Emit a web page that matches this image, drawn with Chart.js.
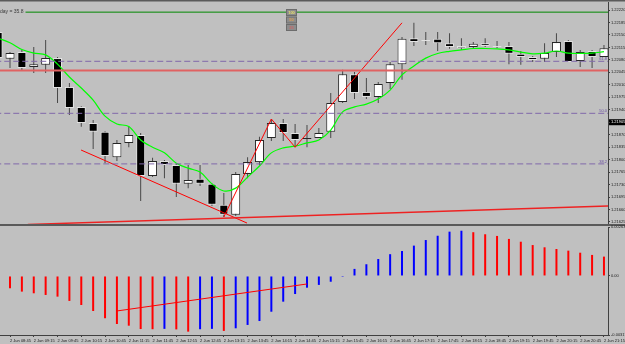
<!DOCTYPE html>
<html>
<head>
<meta charset="utf-8">
<script src="https://cdn.jsdelivr.net/npm/chart.js@4.4.1/dist/chart.umd.min.js"></script>
<style>
  body { margin: 0; background: #c0c0c0; width: 625px; height: 344px; overflow: hidden; position: relative; }
  canvas { position: absolute; left: 0; }
  #priceChart { top: 0; }
  #osmaChart { top: 222px; }
</style>
</head>
<body>
<canvas id="priceChart" width="625" height="226"></canvas>
<canvas id="osmaChart" width="625" height="122"></canvas>
<script>
// 15 min bars, 2 Jun (first one is cut by the left edge)
const times = ["08:30","08:45","09:00","09:15","09:30","09:45","10:00","10:15","10:30","10:45",
  "11:00","11:15","11:30","11:45","12:00","12:15","12:30","12:45","13:00","13:15","13:30","13:45",
  "14:00","14:15","14:30","14:45","15:00","15:15","15:30","15:45","16:00","16:15","16:30","16:45",
  "17:00","17:15","17:30","17:45","18:00","18:15","18:30","18:45","19:00","19:15","19:30","19:45",
  "20:00","20:15","20:30","20:45","21:00","21:15"];

const opens = [1.22158,1.22083,1.22102,1.22060,1.22066,1.22085,1.22004,1.21948,1.21903,1.21878,
  1.21807,1.21847,1.21869,1.21754,1.21796,1.21785,1.21732,1.21746,1.21732,1.21673,1.21645,1.21760,
  1.21793,1.21861,1.21903,1.21875,1.21858,1.21861,1.21878,1.21962,1.22040,1.21990,1.21976,1.22015,
  1.22068,1.22141,1.22136,1.22139,1.22127,1.22119,1.22116,1.22127,1.22119,1.22119,1.22097,1.22088,
  1.22083,1.22102,1.22133,1.22077,1.22105,1.22088];
const highs = [1.22164,1.22102,1.22108,1.22116,1.22136,1.22088,1.22015,1.21950,1.21911,1.21880,
  1.21855,1.21894,1.21875,1.21805,1.21799,1.21788,1.21785,1.21785,1.21734,1.21706,1.21765,1.21807,
  1.21864,1.21914,1.21914,1.21900,1.21897,1.21889,1.21987,1.22052,1.22046,1.22029,1.22018,1.22074,
  1.22144,1.22184,1.22158,1.22158,1.22155,1.22141,1.22130,1.22141,1.22133,1.22130,1.22105,1.22091,
  1.22127,1.22155,1.22136,1.22108,1.22108,1.22122];
const lows = [1.22080,1.22057,1.22049,1.22043,1.22043,1.21959,1.21925,1.21892,1.21830,1.21790,
  1.21796,1.21835,1.21684,1.21751,1.21748,1.21695,1.21720,1.21726,1.21670,1.21639,1.21642,1.21748,
  1.21785,1.21852,1.21852,1.21835,1.21835,1.21861,1.21861,1.21959,1.21970,1.21970,1.21959,1.21998,
  1.22024,1.22119,1.22122,1.22105,1.22111,1.22108,1.22113,1.22116,1.22113,1.22068,1.22066,1.22074,
  1.22074,1.22088,1.22074,1.22060,1.22057,1.22088];
const closes = [1.22085,1.22099,1.22057,1.22068,1.22085,1.22001,1.21945,1.21903,1.21878,1.21810,
  1.21847,1.21869,1.21754,1.21796,1.21785,1.21732,1.21743,1.21732,1.21673,1.21645,1.21760,1.21793,
  1.21855,1.21903,1.21875,1.21855,1.21861,1.21875,1.21959,1.22040,1.21987,1.21976,1.22012,1.22068,
  1.22139,1.22130,1.22133,1.22127,1.22116,1.22113,1.22125,1.22119,1.22116,1.22097,1.22088,1.22080,
  1.22099,1.22130,1.22074,1.22102,1.22088,1.22113];
const maLine = [1.22141,1.22128,1.22109,1.22099,1.22094,1.22068,1.22032,1.22001,1.21967,1.21922,
  1.21900,1.21893,1.21855,1.21835,1.21819,1.21790,1.21776,1.21765,1.21732,1.21712,1.21720,1.21751,
  1.21782,1.21819,1.21833,1.21838,1.21847,1.21855,1.21883,1.21934,1.21948,1.21956,1.21970,1.21995,
  1.22038,1.22063,1.22085,1.22098,1.22104,1.22108,1.22112,1.22112,1.22111,1.22108,1.22102,1.22097,
  1.22099,1.22105,1.22099,1.22098,1.22099,1.22103];
const osma = [null,-0.00066,-0.00084,-0.00093,-0.00102,-0.00111,-0.00134,-0.00156,-0.00188,-0.00227,
  -0.00258,-0.00267,-0.00285,-0.00286,-0.00284,-0.00287,-0.00299,-0.00286,-0.00284,-0.00295,-0.00281,
  -0.00263,-0.00242,-0.00192,-0.00138,-0.00097,-0.00063,-0.00048,-0.00031,-0.00005,0.00038,0.00063,
  0.00091,0.00117,0.00134,0.00163,0.00193,0.00216,0.00238,0.00243,0.00235,0.00224,0.00215,0.00199,
  0.00184,0.00166,0.00154,0.00145,0.00136,0.00125,0.00113,0.00104];

const priceTicks = [1.22220,1.22185,1.22150,1.22115,1.22080,1.22045,1.22010,1.21975,1.21940,
  1.21905,1.21870,1.21835,1.21800,1.21765,1.21730,1.21695,1.21660,1.21625];
const markedTick = 1.21905;
const osmaTicks = [0.00263, 0, -0.00317];

// objects drawn on the chart (bar index, price)
const hiLine = 1.22214;
const resLine = 1.22050;
const fibValues = [1.22076, 1.21930, 1.21788];
const fibNames = ["61.8", "50.0", "38.2"];
const trendDown = [[5.98, 1.21827], [19.95, 1.21622]];
const support = [[1.5, 1.21618], [50.4, 1.21670]];
const zigzag = [[18, 1.21639], [22, 1.21914], [24, 1.21835], [33, 1.22184]];
const osmaTrend = [[9, -0.00188], [25, -0.00043]];
const buttons = ["100", "50", "25"];
const infoText = "day = 35.8";

const xMin = -0.842, xMax = 50.34;
const idx = times.map((t, k) => k - 1);

Chart.defaults.font.family = "'Liberation Sans', Arial, sans-serif";
Chart.defaults.font.size = 4;

const toPts = (arr) => arr.map((p) => ({ x: p[0], y: p[1] }));
const hLine = (v) => [{ x: -2, y: v }, { x: 52, y: v }];

function lineSet(data, color, width, dash) {
  return {
    type: "line", data, borderColor: color, borderWidth: width, borderDash: dash || [],
    pointRadius: 0, tension: 0, fill: false, order: 0,
  };
}

function rightAxis(min, max, ticks, fmt) {
  return {
    position: "right", min, max,
    afterBuildTicks: (s) => { s.ticks = ticks.map((v) => ({ value: v })); },
    afterFit: (s) => { s.width = 17; s.paddingTop = 0; s.paddingBottom = 0; },
    ticks: {
      callback: fmt, padding: 1,
      color: (c) => (c.tick && c.tick.value === markedTick && min > 1 ? "#ffffff" : "#1a1a1a"),
    },
    grid: { drawOnChartArea: false, tickLength: 2, color: "#404040" },
    border: { color: "#404040" },
  };
}

const baseOptions = {
  responsive: false, animation: false, devicePixelRatio: 1, events: [],
  plugins: { legend: { display: false }, tooltip: { enabled: false } },
  datasets: { bar: { grouped: false, inflateAmount: 0 } },
};

const priceDecor = {
  id: "priceDecor",
  beforeDraw(chart) {
    const { ctx, chartArea: a } = chart;
    const y = chart.scales.y.getPixelForValue(markedTick);
    ctx.save();
    ctx.fillStyle = "#000000";
    ctx.fillRect(a.right + 1, y - 3, 17, 6);
    ctx.restore();
  },
  afterDatasetsDraw(chart) {
    const { ctx, chartArea: a } = chart;
    const y = chart.scales.y;
    ctx.save();
    ctx.font = "4px 'Liberation Sans'";
    ctx.fillStyle = "#6a50a0";
    ctx.textAlign = "right";
    ctx.textBaseline = "bottom";
    fibValues.forEach((v, k) => ctx.fillText(fibNames[k], a.right - 1, y.getPixelForValue(v) - 0.5));

    ctx.font = "5px 'Liberation Sans'";
    ctx.textAlign = "left";
    ctx.textBaseline = "middle";
    const w = ctx.measureText(infoText).width;
    ctx.fillStyle = "#c0c0c0";
    ctx.fillRect(0, 9, w + 2, 6);
    ctx.fillStyle = "#3a3a3a";
    ctx.fillText(infoText, 0, 12);

    const btnColors = ["#e8e070", "#e0a050", "#c86868"];
    ctx.font = "bold 4px 'Liberation Sans'";
    ctx.textAlign = "center";
    buttons.forEach((b, k) => {
      const top = 9 + k * 7.5;
      ctx.fillStyle = "#8c8c8c";
      ctx.fillRect(286, top, 11, 7);
      ctx.strokeStyle = "#6c6c6c";
      ctx.lineWidth = 1;
      ctx.strokeRect(286.5, top + 0.5, 10, 6);
      ctx.fillStyle = btnColors[k];
      ctx.fillText(b, 291.5, top + 3.7);
    });

    ctx.fillStyle = "#5a5a5a";
    ctx.fillRect(0, 0, 625, 1.5);
    ctx.fillRect(0, 224, 625, 2);
    ctx.restore();
  },
};

function createPriceChart(el) {
  const bull = (k) => closes[k] >= opens[k];
  new Chart(el, {
    type: "bar",
    data: {
      datasets: [
        {
          data: idx.map((x, k) => ({ x, y: [lows[k], highs[k]] })),
          backgroundColor: "#484848", barThickness: 1, maxBarThickness: 1, order: 3,
        },
        {
          data: idx.map((x, k) => ({ x, y: [opens[k], closes[k]] })),
          backgroundColor: (c) => (bull(c.dataIndex) ? "#ffffff" : "#000000"),
          borderColor: (c) => (bull(c.dataIndex) ? "#262626" : "#e2e2e2"),
          borderWidth: 1, borderSkipped: false, barThickness: 9, maxBarThickness: 9, order: 2,
        },
        Object.assign(lineSet(idx.map((x, k) => ({ x, y: maLine[k] })), "#00ff00", 1.2), { tension: 0.35, order: 1 }),
        lineSet(hLine(hiLine), "#008800", 1),
        lineSet(hLine(resLine), "#e06262", 2),
        ...fibValues.map((v) => lineSet(hLine(v), "#8068aa", 1, [6, 3])),
        lineSet(toPts(support), "#ee2222", 1.5),
        lineSet(toPts(trendDown), "#ff0000", 1),
        lineSet(toPts(zigzag), "#ff0000", 1),
      ],
    },
    options: Object.assign({}, baseOptions, {
      layout: { autoPadding: false, padding: { top: 2, bottom: 2, left: 0, right: 0 } },
      scales: {
        x: { type: "linear", min: xMin, max: xMax, offset: false, display: false },
        y: rightAxis(1.216193, 1.222425, priceTicks, (v) => v.toFixed(5)),
      },
    }),
    plugins: [priceDecor],
  });
}

function createOsmaChart(el) {
  new Chart(el, {
    type: "bar",
    data: {
      datasets: [
        {
          data: idx.map((x, k) => ({ x, y: osma[k] })),
          backgroundColor: (c) => (c.dataIndex > 1 && osma[c.dataIndex] > osma[c.dataIndex - 1] ? "#0000ff" : "#ff0000"),
          barThickness: 2, maxBarThickness: 2, order: 1,
        },
        lineSet(toPts(osmaTrend), "#ff0000", 1),
      ],
    },
    options: Object.assign({}, baseOptions, {
      layout: { autoPadding: false, padding: { top: 5, bottom: 0, left: 0, right: 0 } },
      scales: {
        x: {
          type: "linear", min: xMin, max: xMax, offset: false,
          afterBuildTicks: (s) => { s.ticks = idx.filter((i) => i >= 0 && i % 2 === 0).map((v) => ({ value: v })); },
          afterFit: (s) => { s.height = 9; s.paddingLeft = 0; s.paddingRight = 0; },
          ticks: {
            callback: (v) => "2 Jun " + times[v + 1],
            align: "start", maxRotation: 0, minRotation: 0, autoSkip: false, padding: 1, color: "#1a1a1a",
          },
          grid: { offset: false, drawOnChartArea: false, tickLength: 2, color: "#404040" },
          border: { color: "#404040" },
        },
        y: rightAxis(-0.00317, 0.00263, osmaTicks, (v) => (v === 0 ? "0.00" : v.toFixed(5))),
      },
    }),
  });
}

createPriceChart(document.getElementById("priceChart"));
createOsmaChart(document.getElementById("osmaChart"));
</script>
</body>
</html>
